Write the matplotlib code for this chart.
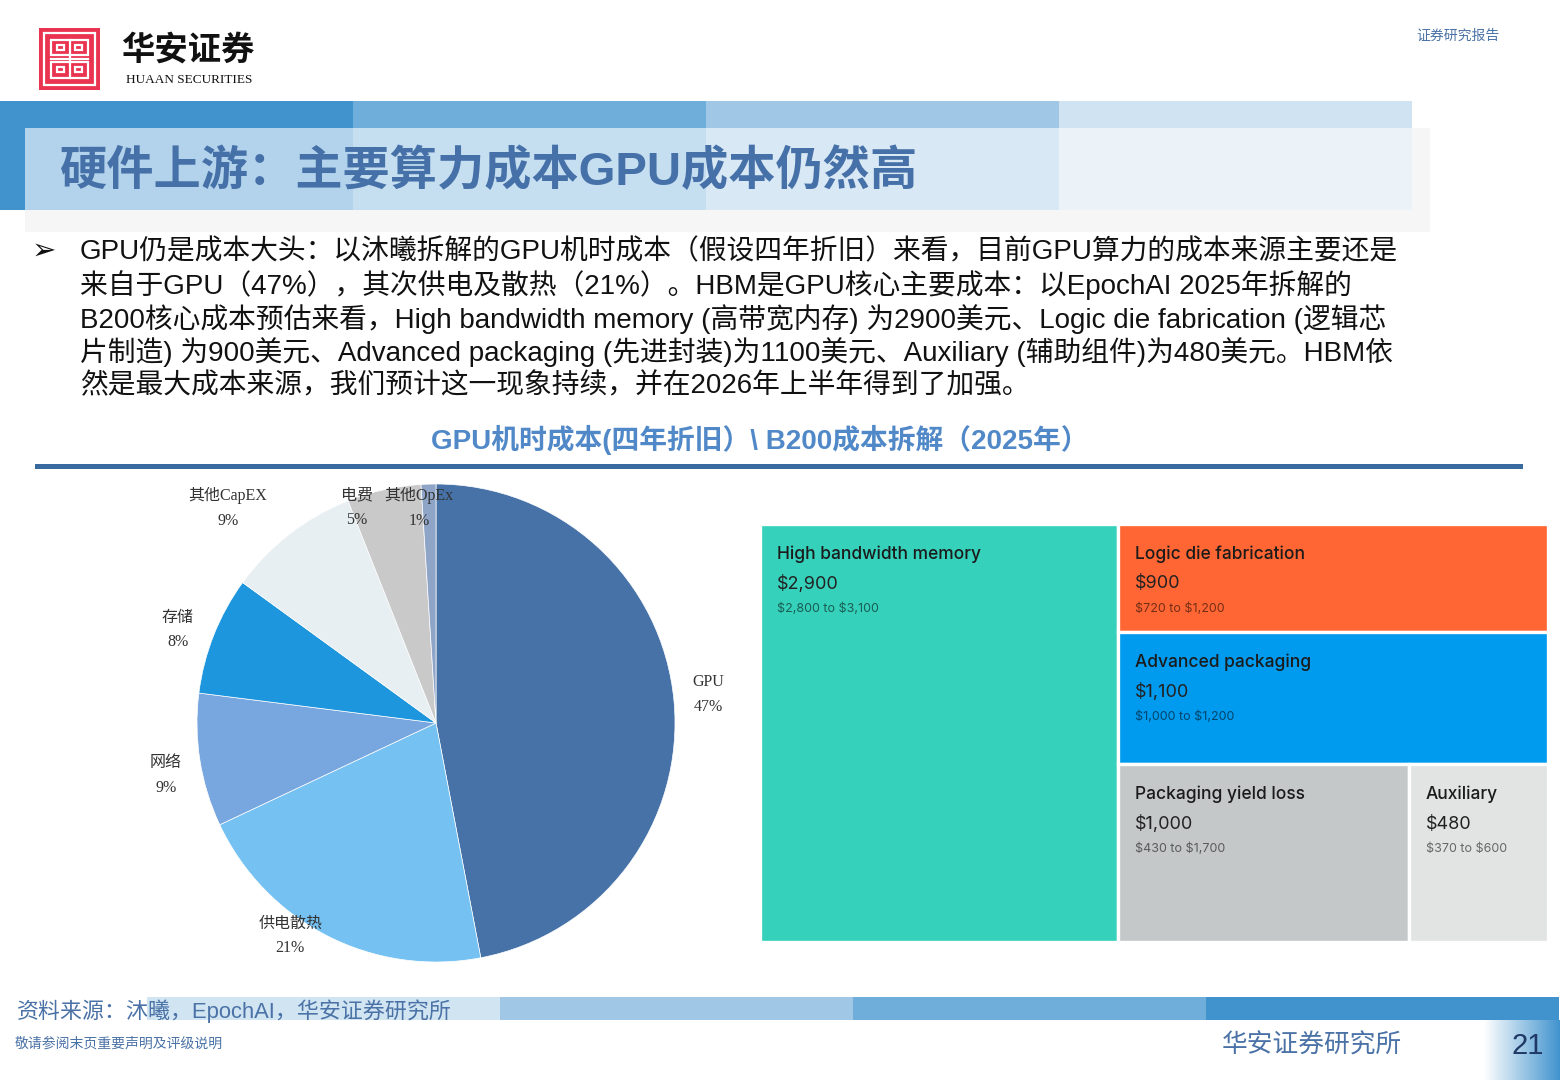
import numpy as np
import matplotlib
matplotlib.use("Agg")
import matplotlib.pyplot as plt
from matplotlib.patches import Rectangle

W, H = 1560, 1080
CJK = 'Noto Sans CJK SC'
SANS = ['Liberation Sans', CJK]
SERIF = ['Liberation Serif', CJK]
BLUE_TXT = '#4A72A6'

# 饼图：GPU机时成本（四年折旧）
pie_names = ['GPU', '供电散热', '网络', '存储', '其他CapEX', '电费', '其他OpEx']
pie_shares = [47, 21, 9, 8, 9, 5, 1]
pie_colors = ['#4672A8', '#74C1F2', '#78A6DE', '#1E96DD', '#E7EFF2', '#C9C9C9', '#8FA5C8']
# 标签位置（饼图半径为1）
pie_label_pos = [(1.14, 0.12), (-0.61, -0.89), (-1.13, -0.22), (-1.08, 0.39),
                 (-0.87, 0.90), (-0.33, 0.90), (-0.07, 0.90)]

# 树图：B200成本拆解（2025年），美元
tm_names = ['High bandwidth memory', 'Logic die fabrication', 'Advanced packaging',
            'Packaging yield loss', 'Auxiliary']
tm_values = [2900, 900, 1100, 1000, 480]
tm_low = [2800, 720, 1000, 430, 370]
tm_high = [3100, 1200, 1200, 1700, 600]
tm_colors = ['#36D1BB', '#FF6633', '#009AEE', '#C5C8C9', '#E2E4E3']
tm_rows = [[1], [2], [3, 4]]   # 右侧分行

bullet_lines = [
    "GPU仍是成本大头：以沐曦拆解的GPU机时成本（假设四年折旧）来看，目前GPU算力的成本来源主要还是",
    "来自于GPU（47%），其次供电及散热（21%）。HBM是GPU核心主要成本：以EpochAI 2025年拆解的",
    "B200核心成本预估来看，High bandwidth memory (高带宽内存) 为2900美元、Logic die fabrication (逻辑芯",
    "片制造) 为900美元、Advanced packaging (先进封装)为1100美元、Auxiliary (辅助组件)为480美元。HBM依",
    "然是最大成本来源，我们预计这一现象持续，并在2026年上半年得到了加强。",
]


def px_axes(fig, x, y, w, h):
    return fig.add_axes([x / W, 1 - (y + h) / H, w / W, h / H])


fig = plt.figure(figsize=(W / 100, H / 100), dpi=100)
bg = fig.add_axes([0, 0, 1, 1])
bg.set_xlim(0, W)
bg.set_ylim(H, 0)
bg.axis('off')


def rect(x0, y0, x1, y1, color, **kw):
    bg.add_patch(Rectangle((x0, y0), x1 - x0, y1 - y0, facecolor=color,
                           edgecolor='none', **kw))


# ---- 页眉 ----
rect(39, 28, 100, 90, '#EA3350')
wkw = dict(facecolor='none', edgecolor='white', lw=1.6)
bg.add_patch(Rectangle((44, 33), 51, 52, **wkw))
bg.add_patch(Rectangle((51, 40), 37, 15, **wkw))
bg.add_patch(Rectangle((51, 62), 37, 16, **wkw))
bg.plot([69.5, 69.5], [40, 78], color='white', lw=1.6)
bg.plot([51, 88], [58.5, 58.5], color='white', lw=1.6)
bg.add_patch(Rectangle((57, 45), 7, 5, **wkw))
bg.add_patch(Rectangle((75, 45), 7, 5, **wkw))
bg.add_patch(Rectangle((57, 67), 7, 5, **wkw))
bg.add_patch(Rectangle((75, 67), 7, 5, **wkw))
bg.text(188, 50, '华安证券', family=CJK, fontsize=24, fontweight='bold',
        color='#111111', ha='center', va='center')
bg.text(189, 80, 'HUAAN SECURITIES', family=SERIF, fontsize=9.5,
        color='#111111', ha='center', va='center')
bg.text(1500, 36, '证券研究报告', family=CJK, fontsize=10, color=BLUE_TXT,
        ha='right', va='center')

rect(25, 128, 1430, 232, '#F6F6F6')
for i, c in enumerate(['#4193CE', '#6FAEDA', '#A0C8E6', '#CFE3F2']):
    rect(353 * i, 101, 353 * (i + 1), 210, c)
rect(25, 128, 1412, 210, 'white', alpha=0.6)
bg.text(60, 172, '硬件上游：主要算力成本GPU成本仍然高', family=SANS, fontsize=34,
        fontweight='bold', color='#4570A8', ha='left', va='center')

# ---- 正文 ----
bg.text(44, 251, '➢', family=['DejaVu Sans'], fontsize=21, color='#111111',
        ha='center', va='center')
for i, line in enumerate(bullet_lines):
    bg.text(80, 252 + 33.5 * i, line, family=SANS, fontsize=20,
            color='#111111', ha='left', va='center')

bg.text(760, 440, 'GPU机时成本(四年折旧）\\ B200成本拆解（2025年）', family=SANS,
        fontsize=20, fontweight='bold', color='#5088C8', ha='center', va='center')
rect(35, 464, 1523, 469, '#386A9F')

# ---- 饼图 ----
pax = px_axes(fig, 436 - 239, 723 - 239, 478, 478)
wedges, _ = pax.pie(pie_shares, colors=pie_colors, startangle=90,
                    counterclock=False, radius=1,
                    wedgeprops=dict(linewidth=0.5, edgecolor='white'))
pax.set_xlim(-1, 1)
pax.set_ylim(-1, 1)
for name, share, (lx, ly) in zip(pie_names, pie_shares, pie_label_pos):
    pax.text(lx, ly, f'{name}\n{share}%', family=SERIF, fontsize=11.5,
             color='#333333', ha='center', va='center', linespacing=1.7)

# ---- 树图 ----
tax = px_axes(fig, 760, 524, 788, 418)
tax.set_xlim(0, 1)
tax.set_ylim(1, 0)
tax.axis('off')
total = sum(tm_values)
boxes = {0: (0, 0, tm_values[0] / total, 1)}
x_split = tm_values[0] / total
rest = total - tm_values[0]
y_cur = 0
for row in tm_rows:
    row_sum = sum(tm_values[k] for k in row)
    h = row_sum / rest
    x_cur = x_split
    for k in row:
        w = (1 - x_split) * tm_values[k] / row_sum
        boxes[k] = (x_cur, y_cur, w, h)
        x_cur += w
    y_cur += h

for k in range(len(tm_names)):
    x, y, w, h = boxes[k]
    tax.add_patch(Rectangle((x, y), w, h, facecolor=tm_colors[k],
                            edgecolor='white', lw=2.4))
    kw = dict(xy=(x, y), xycoords='data', textcoords='offset points',
              ha='left', va='center', annotation_clip=False)
    tax.annotate(tm_names[k], xytext=(17 * 0.72, -30 * 0.72), family='Inter',
                 fontsize=12.5, fontweight='medium', color='#1B1B1B', **kw)
    tax.annotate(f'\\${tm_values[k]:,}', xytext=(17 * 0.72, -60 * 0.72),
                 family='Inter', fontsize=13, color='#222222', **kw)
    tax.annotate(f'\\${tm_low[k]:,} to \\${tm_high[k]:,}',
                 xytext=(17 * 0.72, -85 * 0.72), family='Inter', fontsize=9,
                 color='black', alpha=0.55, **kw)

# ---- 页脚 ----
for i, c in enumerate(['#D0E4F2', '#A0C8E6', '#6FAEDA', '#4193CE']):
    rect(147 + 353 * i, 997, min(147 + 353 * (i + 1), W), 1020, c)
bg.text(17, 1011, '资料来源：沐曦，EpochAI，华安证券研究所', family=SANS,
        fontsize=15.8, color=BLUE_TXT, ha='left', va='center')
bg.text(15, 1044, '敬请参阅末页重要声明及评级说明', family=CJK, fontsize=10,
        color=BLUE_TXT, ha='left', va='center')
bg.text(1312, 1046, '华安证券研究所', family=CJK, fontsize=18.5,
        color=BLUE_TXT, ha='center', va='center')
grad = np.linspace(0, 1, 256).reshape(1, -1)
cmap = matplotlib.colors.LinearSegmentedColormap.from_list('g', ['white', '#4193CE'])
bg.imshow(grad, cmap=cmap, extent=(1484, 1560, 1080, 1020), aspect='auto', zorder=1)
bg.set_xlim(0, W)
bg.set_ylim(H, 0)
bg.text(1528, 1046, '21', family=SANS, fontsize=21, color='#1F3864',
        ha='center', va='center', zorder=2)

fig.savefig('out.png', dpi=100)
